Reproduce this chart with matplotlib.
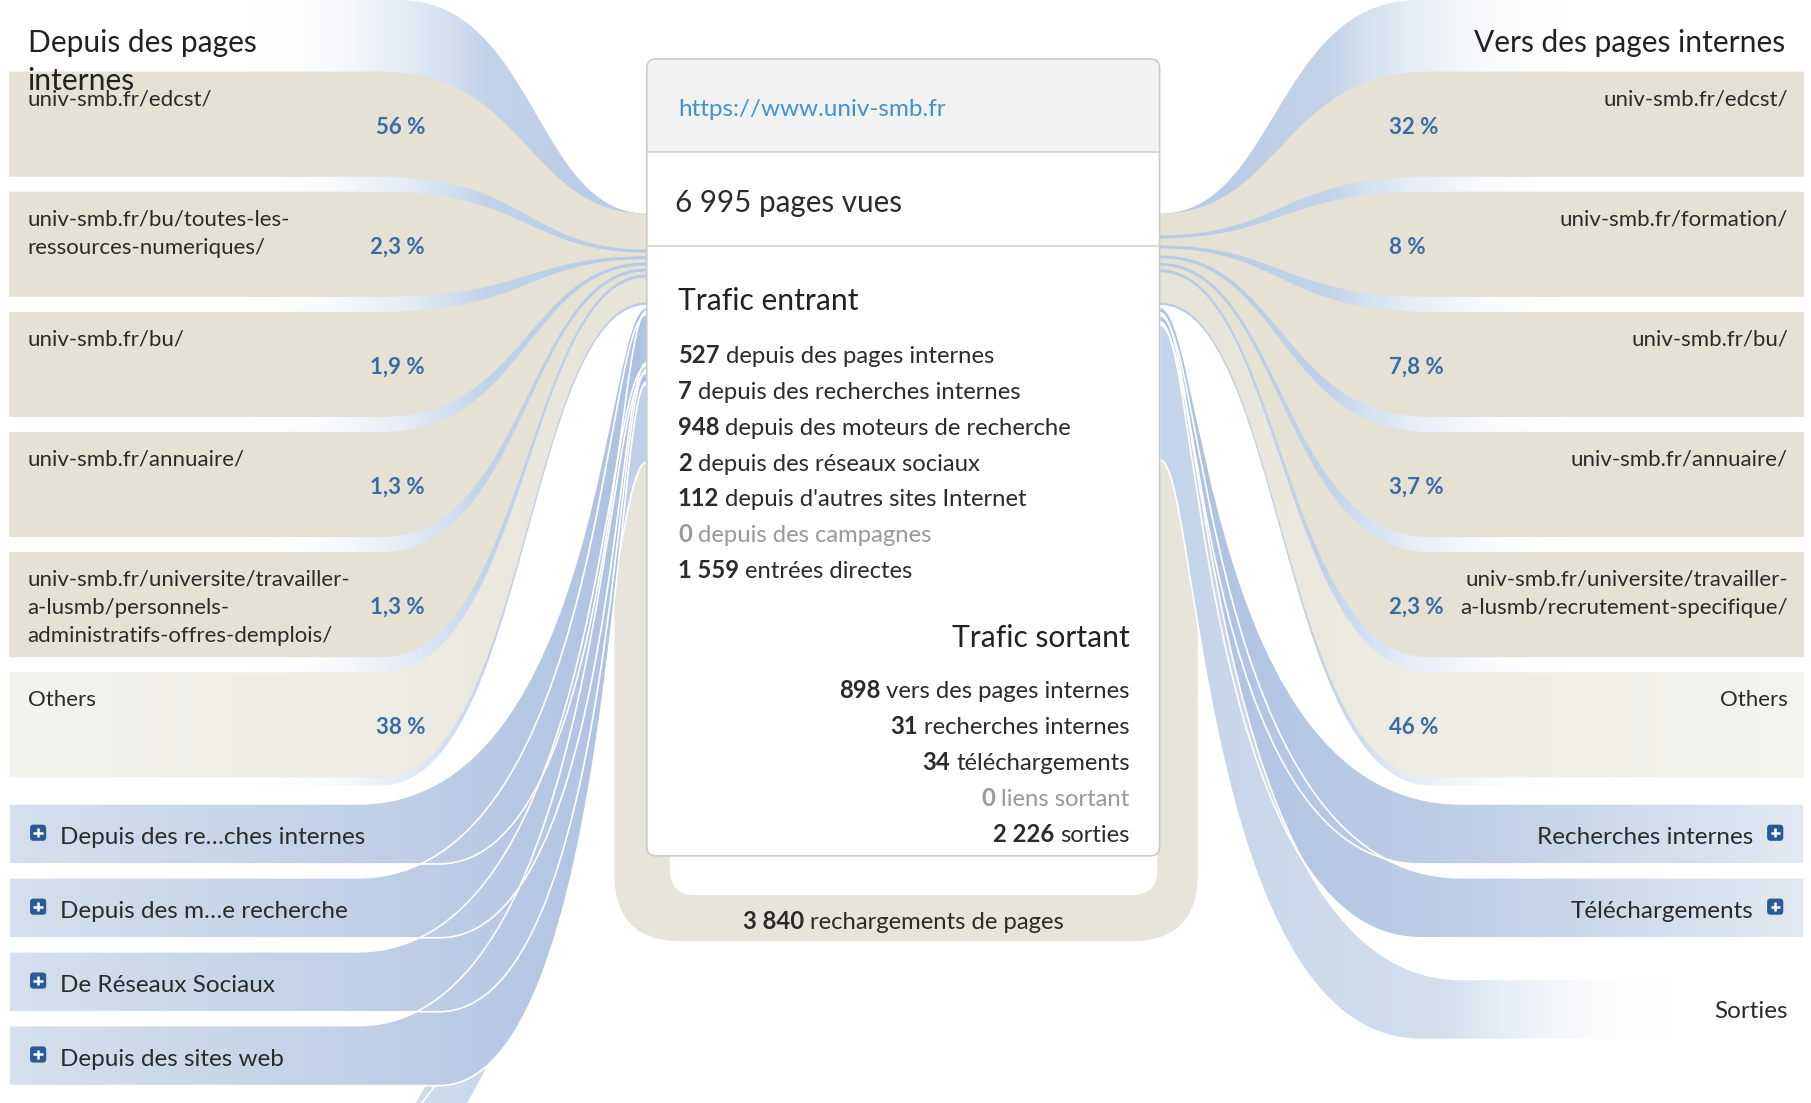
# transitions d'une page : flux entrants / sortants autour du bloc central

import numpy as np
import matplotlib
matplotlib.use('Agg')
import matplotlib.pyplot as plt
from matplotlib.path import Path
from matplotlib.patches import PathPatch, FancyBboxPatch, Rectangle
from matplotlib.colors import to_rgba

plt.rcParams['font.family'] = ['Lato', 'DejaVu Sans']

# --- données ---
left_pages = ['univ-smb.fr/edcst/',
              'univ-smb.fr/bu/toutes-les-\nressources-numeriques/',
              'univ-smb.fr/bu/',
              'univ-smb.fr/annuaire/',
              'univ-smb.fr/universite/travailler-\na-lusmb/personnels-\nadministratifs-offres-demplois/',
              'Others']
left_pct = [56, 2.3, 1.9, 1.3, 1.3, 38]

right_pages = ['univ-smb.fr/edcst/',
               'univ-smb.fr/formation/',
               'univ-smb.fr/bu/',
               'univ-smb.fr/annuaire/',
               'univ-smb.fr/universite/travailler-\na-lusmb/recrutement-specifique/',
               'Others']
right_pct = [32, 8, 7.8, 3.7, 2.3, 46]

left_groups = ['Depuis des re…ches internes', 'Depuis des m…e recherche',
               'De Réseaux Sociaux', 'Depuis des sites web']
left_group_counts = [7, 948, 2, 112]
direct_count = 1559

right_groups = ['Recherches internes', 'Téléchargements', 'Sorties']
right_group_counts = [31, 34, 2226]

page_url = 'https://www.univ-smb.fr'
page_views = 6995
in_counts = [527, 7, 948, 2, 112, 0, 1559]
in_labels = ['depuis des pages internes', 'depuis des recherches internes',
             'depuis des moteurs de recherche', 'depuis des réseaux sociaux',
             "depuis d'autres sites Internet", 'depuis des campagnes',
             'entrées directes']
out_counts = [898, 31, 34, 0, 2226]
out_labels = ['vers des pages internes', 'recherches internes',
              'téléchargements', 'liens sortant', 'sorties']
reloads = 3840

# --- mise en page (pixels de la capture) ---
W, H = 1568, 955
PT = 0.8316            # points par pixel
BOX_L, BOX_R, BOX_T, BOX_B = 560, 1004, 51, 741
BAND_TOPS = [62, 166, 270, 374, 478, 582]
BAND_H = 91
GROUP_TOPS_L = [696, 760, 824, 888]
GROUP_TOPS_R = [696, 760, 848]
GROUP_H = 52

BEIGE = '#e5e1d5'
TXT = '#2b2b2b'
PCT_COL = '#3b6ba7'
LAB_PX = 19.3
BODY_PX = 20.7
TITLE_PX = 26

fig = plt.figure(figsize=(18.11, 11.03), dpi=100)
ax = fig.add_axes([0, 0, 1, 1])


def fmt(n):
    return f'{n:,}'.replace(',', ' ')


def fmt_pct(v):
    return f'{v:g}'.replace('.', ',') + ' %'


def flow_path(x_far, y_top, y_bot, xt, xb, x_box, bt, bb, k1, k2):
    v = [(x_far, y_top), (xt, y_top)]
    c = [Path.MOVETO, Path.LINETO]
    dx = x_box - xt
    v += [(xt + k1 * dx, y_top), (x_box - k2 * dx, bt), (x_box, bt)]
    c += [Path.CURVE4] * 3
    v += [(x_box, bb)]
    c += [Path.LINETO]
    dx = x_box - xb
    v += [(x_box - k2 * dx, bb), (xb + k1 * dx, y_bot), (xb, y_bot)]
    c += [Path.CURVE4] * 3
    v += [(x_far, y_bot), (x_far, y_top)]
    c += [Path.LINETO, Path.CLOSEPOLY]
    return Path(v, c)


def grad_fill(path, stops, z, ec='none', lw=0):
    xs = np.linspace(0, W, 1200)
    sx = [s[0] for s in stops]
    cols = np.array([to_rgba(s[1], s[2] if len(s) > 2 else 1) for s in stops])
    rgba = np.stack([np.interp(xs, sx, cols[:, i]) for i in range(4)], axis=-1)[None]
    patch = PathPatch(path, fc='none', ec=ec, lw=lw, zorder=z + 0.01)
    ax.add_patch(patch)
    im = ax.imshow(rgba, extent=(0, W, H, 0), aspect='auto', zorder=z,
                   interpolation='bilinear')
    im.set_clip_path(patch)


def stack(vals, y0, y1, gap, min_w):
    n = len(vals)
    avail = (y1 - y0) - gap * (n - 1) - min_w * n
    tot = float(sum(vals))
    out, y = [], y0
    for v in vals:
        w = min_w + avail * v / tot
        out.append((y, y + w))
        y += w + gap
    return out


def plus_icon(cx, cy):
    ax.add_patch(FancyBboxPatch((cx - 7, cy - 7), 14, 14,
                                boxstyle='round,pad=0,rounding_size=3',
                                fc='#2b5a97', ec='none', zorder=11))
    ax.plot([cx - 4, cx + 4], [cy, cy], color='white', lw=1.8, zorder=12,
            solid_capstyle='butt')
    ax.plot([cx, cx], [cy - 4, cy + 4], color='white', lw=1.8, zorder=12,
            solid_capstyle='butt')


def txt(x, y, s, px, color=TXT, ha='left', bold=False):
    ax.text(x, y + 2, s, fontsize=px * PT, color=color, ha=ha, va='center',
            fontweight='bold' if bold else 'normal', zorder=20)


def rich(x, y, num, rest, px, color, align='left'):
    size = px * PT
    if align == 'left':
        t = ax.text(x, y + 2, fmt(num), fontsize=size, fontweight='bold', color=color,
                    ha='left', va='center', zorder=20)
        ax.annotate(rest, xy=(1, 0), xycoords=t, xytext=(size * 0.25, 0),
                    textcoords='offset points', fontsize=size, color=color,
                    ha='left', va='bottom', zorder=20)
    else:
        t = ax.text(x, y + 2, rest, fontsize=size, color=color,
                    ha='right', va='center', zorder=20)
        ax.annotate(fmt(num), xy=(0, 0), xycoords=t, xytext=(-size * 0.25, 0),
                    textcoords='offset points', fontsize=size, fontweight='bold',
                    color=color, ha='right', va='bottom', zorder=20)


# --- fond bleu des groupes "pages internes" ---
grad_fill(flow_path(8, 0, 680, 345, 330, BOX_L, 185, 264, 0.55, 0.45),
          [(215, '#ffffff', 0), (420, '#c2d3e9'), (560, '#b7cae5')], 1)
grad_fill(flow_path(1562, 0, 680, 1228, 1238, BOX_R, 185, 264, 0.55, 0.45),
          [(1004, '#b7cae5'), (1150, '#c2d3e9'), (1355, '#ffffff', 0)], 1)

# --- boucle des rechargements ---
ax.add_patch(FancyBboxPatch((532, 380), 505, 435, boxstyle='round,pad=0,rounding_size=58',
                            fc='#e7e4db', ec='none', zorder=1.5))
ax.add_patch(FancyBboxPatch((580, 340), 422, 435, boxstyle='round,pad=0,rounding_size=22',
                            fc='white', ec='none', zorder=1.6))

# --- bandes beiges (pages) ---
l_att = stack(left_pct, 185, 262, 2.5, 2)
for i, top in enumerate(BAND_TOPS):
    bt, bb = l_att[i]
    p = flow_path(8, top, top + BAND_H, 330, 330, BOX_L, bt, bb, 0.55, 0.45)
    if i == len(BAND_TOPS) - 1:
        grad_fill(p, [(0, '#f5f3ee'), (300, '#efede5'), (560, '#e6e3d9')], 2.5)
    else:
        ax.add_patch(PathPatch(p, fc=BEIGE, ec='none', zorder=2.5))

r_att = stack(right_pct, 185, 262, 2.5, 2)
for i, top in enumerate(BAND_TOPS):
    bt, bb = r_att[i]
    p = flow_path(1562, top, top + BAND_H, 1238, 1238, BOX_R, bt, bb, 0.55, 0.45)
    if i == len(BAND_TOPS) - 1:
        grad_fill(p, [(1004, '#e6e3d9'), (1260, '#efede5'), (1562, '#f6f4ef')], 2.5)
    else:
        ax.add_patch(PathPatch(p, fc=BEIGE, ec='none', zorder=2.5))

# --- flux bleus entrants (bas gauche) ---
l_bot = stack(left_group_counts + [direct_count], 266, 400, 3, 3)
a, b = l_bot[-1]
ent = Path([(BOX_L, a), (505, a), (495, 760), (340, 985),
            (385, 985), (528, 780), (530, b), (BOX_L, b), (BOX_L, a)],
           [Path.MOVETO, Path.CURVE4, Path.CURVE4, Path.CURVE4,
            Path.LINETO, Path.CURVE4, Path.CURVE4, Path.CURVE4, Path.CLOSEPOLY])
grad_fill(ent, [(300, '#d3dfef'), (560, '#bfd0e8')], 2.8, ec='white', lw=1.2)

for i, top in enumerate(GROUP_TOPS_L):
    bt, bb = l_bot[i]
    p = flow_path(8, top, top + GROUP_H, 310, 380, BOX_L, bt, bb, 0.85, 0.15)
    grad_fill(p, [(0, '#d6e0ee'), (380, '#bccde6'), (560, '#adc2e1')], 3,
              ec='white', lw=1.2)

# --- flux bleus sortants (bas droite) ---
r_bot = stack(right_group_counts, 266, 398, 3, 3)
for i, top in enumerate(GROUP_TOPS_R):
    bt, bb = r_bot[i]
    p = flow_path(1562, top, top + GROUP_H, 1265, 1230, BOX_R, bt, bb, 0.85, 0.15)
    if i == len(GROUP_TOPS_R) - 1:
        grad_fill(p, [(1004, '#c4d4ea'), (1250, '#d3dfee'), (1450, '#ffffff', 0)], 3,
                  ec='white', lw=1.2)
    else:
        grad_fill(p, [(1004, '#adc2e1'), (1250, '#bccde6'), (1562, '#e2e9f2')], 3,
                  ec='white', lw=1.2)

# --- bloc central ---
ax.add_patch(FancyBboxPatch((BOX_L, BOX_T), BOX_R - BOX_L, BOX_B - BOX_T,
                            boxstyle='round,pad=0,rounding_size=8',
                            fc='#f2f2f2', ec='none', zorder=6))
ax.add_patch(FancyBboxPatch((BOX_L, 132), BOX_R - BOX_L, BOX_B - 132,
                            boxstyle='round,pad=0,rounding_size=8',
                            fc='white', ec='none', zorder=6.1))
ax.add_patch(Rectangle((BOX_L, 132), BOX_R - BOX_L, 20, fc='white', ec='none', zorder=6.1))
ax.plot([BOX_L, BOX_R], [132, 132], color='#d6d6d6', lw=1.3, zorder=6.2)
ax.plot([BOX_L, BOX_R], [213, 213], color='#d6d6d6', lw=1.3, zorder=6.2)
ax.add_patch(FancyBboxPatch((BOX_L, BOX_T), BOX_R - BOX_L, BOX_B - BOX_T,
                            boxstyle='round,pad=0,rounding_size=8',
                            fc='none', ec='#cbcbcb', lw=1.2, zorder=6.3))

txt(587, 93, page_url, 21, color='#3e94d1')
txt(584, 174, f'{fmt(page_views)} pages vues', 25.7)
txt(587, 259, 'Trafic entrant', TITLE_PX, color='#222222')
for i, (n, lab) in enumerate(zip(in_counts, in_labels)):
    rich(587, 306 + 31 * i, n, lab, BODY_PX, '#999999' if n == 0 else TXT)
txt(978, 550, 'Trafic sortant', TITLE_PX, color='#222222', ha='right')
for i, (n, lab) in enumerate(zip(out_counts, out_labels)):
    rich(978, 597 + 31 * i, n, lab, BODY_PX, '#999999' if n == 0 else TXT, align='right')
rich(643, 796, reloads, 'rechargements de pages', BODY_PX, TXT)

# --- titres et étiquettes ---
txt(24, 35, 'Depuis des pages', TITLE_PX, color='#222222')
txt(24, 68, 'internes', TITLE_PX, color='#222222')
txt(1546, 35, 'Vers des pages internes', TITLE_PX, color='#222222', ha='right')

for i, top in enumerate(BAND_TOPS):
    for j, line in enumerate(left_pages[i].split('\n')):
        txt(24, top + 22 + 24.5 * j, line, LAB_PX)
    txt(368, top + 46, fmt_pct(left_pct[i]), LAB_PX, color=PCT_COL, ha='right', bold=True)
    for j, line in enumerate(right_pages[i].split('\n')):
        txt(1548, top + 22 + 24.5 * j, line, LAB_PX, ha='right')
    txt(1203, top + 46, fmt_pct(right_pct[i]), LAB_PX, color=PCT_COL, bold=True)

for i, top in enumerate(GROUP_TOPS_L):
    cy = top + 27
    plus_icon(33, cy - 2)
    txt(52, cy, left_groups[i], 21)

for i, top in enumerate(GROUP_TOPS_R):
    cy = top + 27
    if i < len(GROUP_TOPS_R) - 1:
        plus_icon(1537, cy - 2)
        txt(1518, cy, right_groups[i], 21, ha='right')
    else:
        txt(1548, cy - 1, right_groups[i], 21, ha='right')

ax.set_xlim(0, W)
ax.set_ylim(H, 0)
ax.axis('off')
fig.savefig('out.png', dpi=100, facecolor='white')
